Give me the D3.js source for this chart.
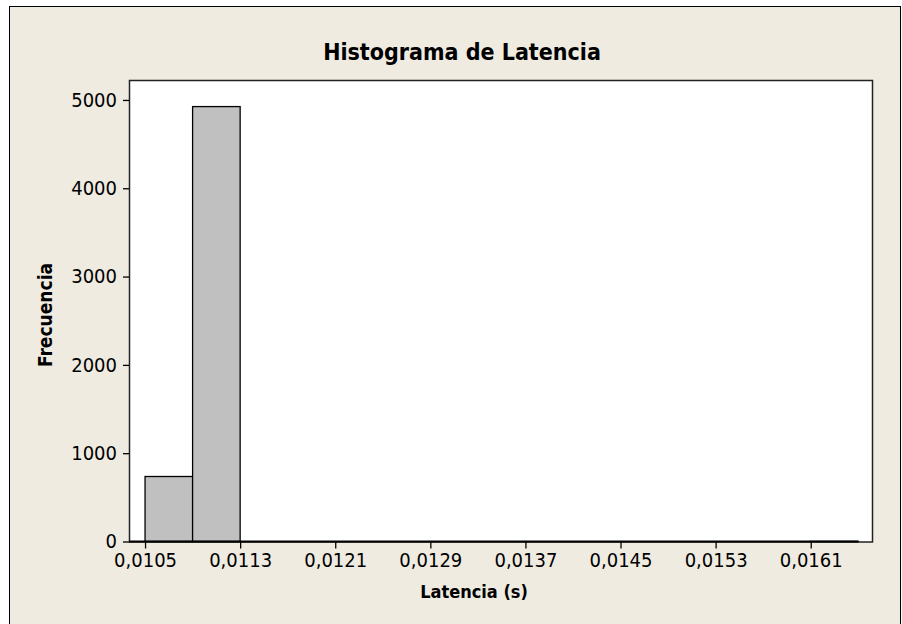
<!DOCTYPE html>
<html>
<head>
<meta charset="utf-8">
<script src="https://cdn.jsdelivr.net/npm/d3@7"></script>
<style>
  body { margin: 0; background: #fff; }
  svg text { font-family: 'DejaVu Sans Condensed', 'DejaVu Sans', sans-serif; font-stretch: condensed; fill: #000; }
</style>
</head>
<body>
<svg id="chart" width="902" height="624"></svg>
<script>
// histogram data
var binStart = 0.0105;
var binWidth = 0.0004;
var counts = [736, 4925, 0, 0, 0, 0, 0, 0, 0, 0, 0, 0, 0, 0, 1];
var xTicks = [0.0105, 0.0113, 0.0121, 0.0129, 0.0137, 0.0145, 0.0153, 0.0161];
var yTicks = [0, 1000, 2000, 3000, 4000, 5000];

var title = "Histograma de Latencia";
var xLabel = "Latencia (s)";
var yLabel = "Frecuencia";

var svg = d3.select('#chart');

// outer frame
svg.append('rect')
  .attr('x', 9.5).attr('y', 6.5)
  .attr('width', 891).attr('height', 620)
  .attr('fill', '#efebe1')
  .attr('stroke', '#000');

var plot = {left: 129, top: 80, right: 873, bottom: 541.5};

var x = d3.scaleLinear()
  .domain([0.010365, 0.016624])
  .range([plot.left, plot.right]);

var y = d3.scaleLinear()
  .domain([0, 5226])
  .range([plot.bottom, plot.top]);

svg.append('rect')
  .attr('x', plot.left + 0.5).attr('y', plot.top + 0.5)
  .attr('width', plot.right - plot.left - 1).attr('height', plot.bottom - plot.top)
  .attr('fill', '#fff')
  .attr('stroke', '#222')
  .attr('stroke-width', 1.5);

var bins = counts.map(function (c, i) {
  return {x0: binStart + i * binWidth, x1: binStart + (i + 1) * binWidth, n: c};
});

svg.append('g').selectAll('rect')
  .data(bins)
  .enter().append('rect')
  .attr('x', function (d) { return x(d.x0); })
  .attr('width', function (d) { return x(d.x1) - x(d.x0); })
  .attr('y', function (d) { return y(d.n); })
  .attr('height', function (d) { return y(0) - y(d.n); })
  .attr('fill', '#c0c0c0')
  .attr('stroke', '#000')
  .attr('stroke-width', 1.3);

// baseline, as thick as in the original
svg.append('line')
  .attr('x1', plot.left).attr('x2', x(binStart + counts.length * binWidth))
  .attr('y1', y(0)).attr('y2', y(0))
  .attr('stroke', '#000').attr('stroke-width', 2.2);

var comma = d3.formatLocale({decimal: ",", thousands: ".", grouping: [3], currency: ["", "€"]});

var xAxis = svg.append('g')
  .attr('transform', 'translate(0,' + plot.bottom + ')')
  .call(d3.axisBottom(x).tickValues(xTicks).tickFormat(comma.format('.4f')).tickSize(7).tickPadding(4));

var yAxis = svg.append('g')
  .attr('transform', 'translate(' + plot.left + ',0)')
  .call(d3.axisLeft(y).tickValues(yTicks).tickFormat(d3.format('d')).tickSize(6).tickPadding(6));

[xAxis, yAxis].forEach(function (g) {
  g.select('.domain').remove();
  g.selectAll('.tick line').attr('stroke', '#000').attr('stroke-width', 1.3);
  g.selectAll('.tick text').attr('font-size', 20).attr('fill', '#000');
});

svg.append('text')
  .attr('x', 462).attr('y', 60)
  .attr('text-anchor', 'middle')
  .attr('font-size', 23).attr('font-weight', 'bold')
  .text(title);

svg.append('text')
  .attr('x', 474).attr('y', 598)
  .attr('text-anchor', 'middle')
  .attr('font-size', 18).attr('font-weight', 'bold')
  .text(xLabel);

svg.append('text')
  .attr('transform', 'translate(52,315) rotate(-90)')
  .attr('text-anchor', 'middle')
  .attr('font-size', 19).attr('font-weight', 'bold')
  .text(yLabel);
</script>
</body>
</html>
